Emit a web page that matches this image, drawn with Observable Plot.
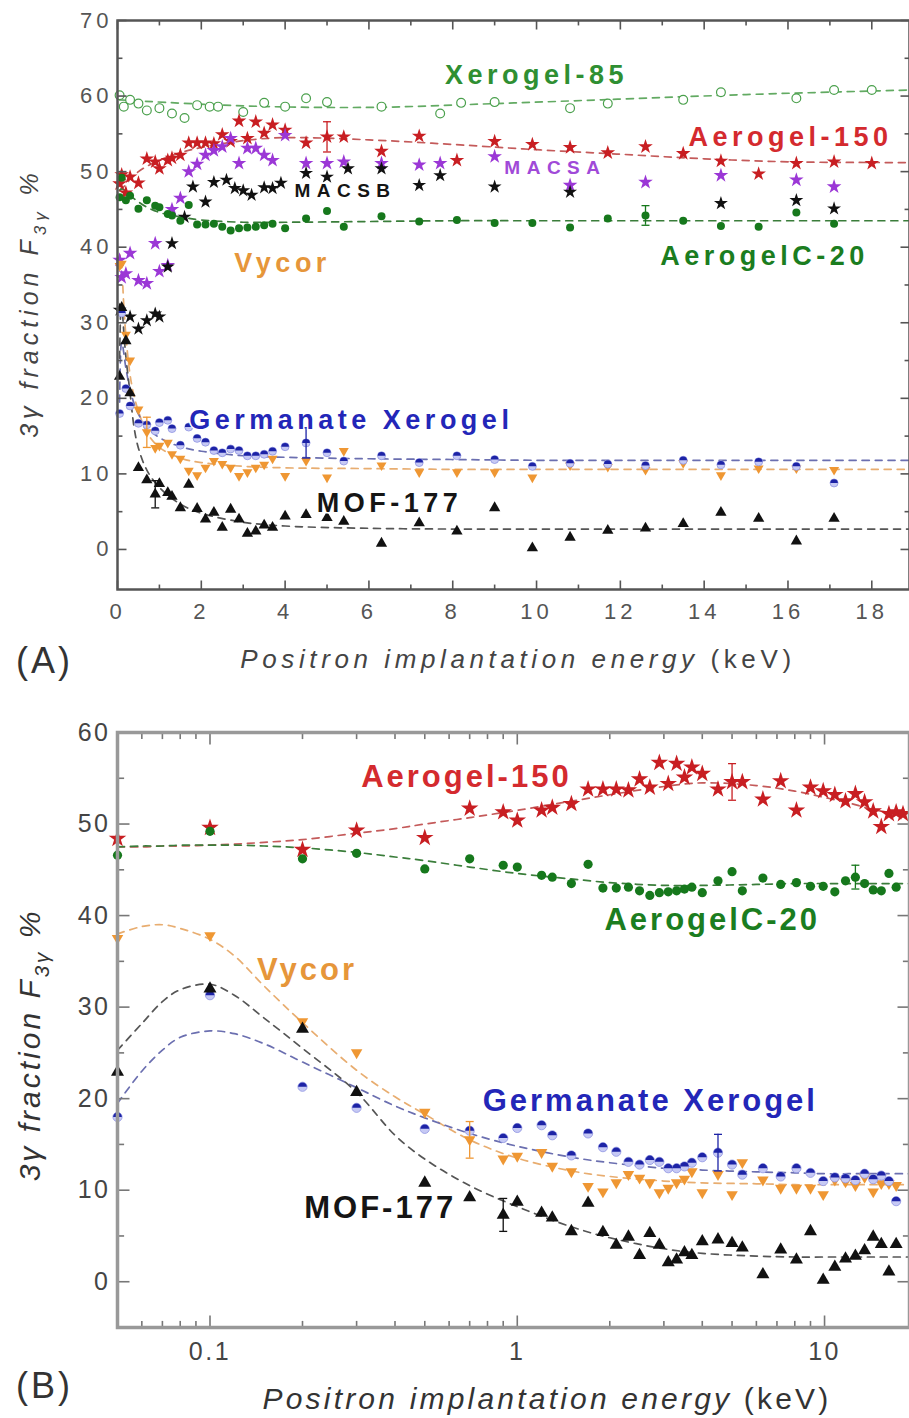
<!DOCTYPE html>
<html><head><meta charset="utf-8">
<script src="https://cdn.jsdelivr.net/npm/d3@7"></script>
<script src="https://cdn.jsdelivr.net/npm/@observablehq/plot@0.6"></script>
<style>
html,body{margin:0;padding:0;background:#fff;}
#chart{width:909px;height:1418px;overflow:hidden;}
#chart svg{display:block;}
</style></head>
<body><div id="chart"></div>
<script>
// ---------------- DATA ----------------
const energy = [0.05,0.1,0.2,0.3,0.5,0.7,0.9,1.0,1.2,1.3,1.5,1.7,1.9,2.1,2.3,2.5,2.7,2.9,3.1,3.3,3.5,3.7,4.0,4.5,5.0,5.4,6.3,7.2,8.1,9.0,9.9,10.8,11.7,12.6,13.5,14.4,15.3,16.2,17.1,18.0];
const aerogel150 = [48.4,49.6,47.2,49.3,48.5,51.7,51.3,50.4,51.5,51.8,52.2,53.8,53.8,53.8,53.7,54.9,54.0,56.7,54.4,56.6,55.1,56.2,55.5,53.8,54.6,54.6,52.7,54.7,51.5,54.0,53.6,53.2,52.5,53.3,52.4,51.4,49.7,51.1,51.3,51.1];
const aerogelC20 = [46.6,49.2,46.2,46.8,45.1,46.2,45.5,45.3,44.4,44.2,43.5,45.6,43.0,43.0,43.1,42.7,42.2,42.5,42.6,42.7,42.9,43.1,42.5,43.8,44.8,42.7,44.1,43.4,43.6,43.2,43.2,42.6,43.8,44.2,43.5,42.8,42.7,44.6,43.1,null];
const vycor = [37.5,37.8,28.4,25.0,18.5,15.5,13.4,13.7,14.1,12.6,12.0,10.4,9.8,10.8,11.7,11.3,10.8,9.7,10.2,10.8,11.2,12.0,9.7,11.7,9.5,13.0,11.1,10.2,10.2,10.2,9.5,11.1,10.9,10.5,11.4,9.8,10.7,10.7,10.5,null];
const germanate = [18.0,31.3,21.3,19.0,16.7,16.5,15.7,16.8,17.1,16.0,13.8,16.2,14.7,14.2,13.1,12.8,13.3,13.1,12.4,12.4,12.6,13.0,13.6,14.1,12.8,11.7,12.4,11.5,12.4,11.9,11.0,11.4,11.3,11.1,11.8,11.2,11.6,11.0,8.8,null];
const mof177 = [22.9,32.0,27.6,20.7,10.8,9.2,7.3,8.7,7.5,7.0,5.5,8.6,5.4,4.0,4.9,2.9,5.3,4.0,2.1,2.4,3.2,2.9,4.4,4.6,4.2,3.7,0.8,3.5,2.4,5.5,0.2,1.6,2.5,2.8,3.4,4.9,4.1,1.1,4.1,null];

const xerogel85E = [0.05,0.15,0.3,0.5,0.7,1.0,1.3,1.6,1.9,2.2,2.4,3.0,3.5,4.0,4.5,5.0,6.3,7.7,8.2,9.0,10.8,11.7,13.5,14.4,16.2,17.1,18.0];
const xerogel85  = [60.1,58.6,59.5,59.0,58.1,58.4,57.7,57.1,58.8,58.6,58.6,57.9,59.1,58.6,59.7,59.2,58.6,57.7,59.1,59.2,58.4,59.0,59.5,60.5,59.7,60.8,60.8];
const macsaE = [0.05,0.1,0.2,0.3,0.5,0.7,0.9,1.0,1.2,1.3,1.5,1.7,1.9,2.1,2.3,2.5,2.7,2.9,3.1,3.3,3.5,3.7,4.0,4.5,5.0,5.4,6.3,7.2,7.7,9.0,10.8,12.6,14.4,16.2,17.1];
const macsa  = [38.3,36.0,36.5,39.2,35.6,35.2,40.5,36.8,37.6,45.0,46.5,50.0,51.0,52.2,52.8,53.3,54.4,51.1,53.1,53.1,52.2,51.5,54.8,51.1,51.1,51.3,51.1,50.9,51.1,52.0,48.2,48.6,49.5,48.9,48.0];
const macsbE = [0.05,0.3,0.5,0.7,0.9,1.0,1.2,1.3,1.6,1.8,2.1,2.3,2.6,2.8,3.0,3.2,3.5,3.7,3.9,4.5,5.0,5.5,6.3,7.2,7.7,9.0,10.8,14.4,16.2,17.1];
const macsb  = [31.7,30.8,29.2,30.3,31.2,30.8,37.4,40.5,44.0,48.0,46.0,48.6,48.9,47.8,47.5,46.9,47.9,47.8,48.5,49.8,49.3,50.4,50.4,48.2,49.5,48.0,47.3,45.8,46.2,45.1];

// dashed model curves
const fitE = [0.05,0.06,0.07,0.08,0.1,0.12,0.15,0.2,0.3,0.4,0.5,0.7,1.0,1.5,2,3,4,6,8,10,12,14,16,18.9];
const fitAerogel150 = [47.5,47.5,47.6,47.6,47.7,47.8,48.0,48.3,49.0,49.5,50.0,50.7,51.5,52.5,53.2,54.1,54.5,54.2,53.6,52.9,52.3,51.7,51.3,51.2];
const fitAerogelC20 = [47.5,47.6,47.6,47.7,47.7,47.7,47.6,47.4,46.9,46.4,46.0,45.3,44.6,44.0,43.6,43.3,43.3,43.4,43.5,43.5,43.5,43.5,43.5,43.5];
const fitVycor      = [38.0,38.8,39.0,38.6,37.4,35.6,32.3,28.3,23.1,20.2,18.3,15.5,13.5,12.1,11.5,11.0,10.8,10.7,10.6,10.6,10.6,10.6,10.6,10.6];
const fitGermanate  = [19.5,23.0,25.3,26.7,27.4,27.1,26.0,24.0,21.2,19.2,17.9,16.2,14.8,13.6,13.0,12.4,12.2,12.0,11.9,11.8,11.8,11.8,11.8,11.8];
const fitMof        = [25.3,28.2,30.6,31.9,32.5,31.3,28.8,25.5,20.7,16.0,13.4,10.5,8.2,6.0,4.8,3.6,3.1,2.8,2.7,2.7,2.7,2.7,2.7,2.7];
const fitXerogelE = [0.05,3,6,9,12,15,18.9];
const fitXerogel  = [59.5,58.7,58.5,59.0,59.6,60.2,60.8];

// error bars
const errSeries = ["MOF-177","Aerogel-150","AerogelC-20","Vycor","Germanate Xerogel"];
const errE = [0.9,5.0,12.6,0.7,4.5];
const errV = [7.3,54.6,44.2,15.5,14.1];
const errD = [1.8,2.0,1.3,2.0,2.0];

// tick values
const xTicksA = [0,2,4,6,8,10,12,14,16,18];
const yTicksA = [0,10,20,30,40,50,60,70];
const xTicksB = [0.1,1,10];
const yTicksB = [0,10,20,30,40,50,60];

// series labels
const labelNamesA = ["Xerogel-85","Aerogel-150","AerogelC-20","Vycor","Germanate Xerogel","MOF-177"];
const labelEA = [10.0,16.06,15.44,3.94,5.58,6.49];
const labelVA = [62.8,54.6,38.8,37.9,17.1,6.1];
const smallNamesA = ["MACSA","MACSB"];
const smallEA = [10.45,5.44];
const smallVA = [50.5,47.5];
const labelNamesB = ["Aerogel-150","AerogelC-20","Vycor","Germanate Xerogel","MOF-177"];
const labelEB = [0.683,4.31,0.207,2.71,0.358];
const labelVB = [55.1,39.5,34.0,19.7,8.07];

// ---------------- STYLE ----------------
const FONT = "'Liberation Sans', Arial, Helvetica, sans-serif";
const col = {
  "Aerogel-150": "#c81e22", "AerogelC-20": "#16781c", "Xerogel-85": "#4aa04c",
  "Vycor": "#ef9733", "Germanate Xerogel": "#1d23a6", "MOF-177": "#111111",
  "MACSA": "#9b37d6", "MACSB": "#111111"
};
const labelCol = {
  "Aerogel-150": "#d42a2e", "AerogelC-20": "#1b7d20", "Xerogel-85": "#2f8f32",
  "Vycor": "#e6963a", "Germanate Xerogel": "#2326b8", "MOF-177": "#151515",
  "MACSA": "#a04ad8", "MACSB": "#151515"
};
const fitCol = {
  "Aerogel-150": "#c45a5a", "AerogelC-20": "#3a7d3a", "Xerogel-85": "#62aa62",
  "Vycor": "#e8ad70", "Germanate Xerogel": "#6b6fb0", "MOF-177": "#555555"
};

const rows = (E, V) => E.map((e, i) => ({energy: e, value: V[i]})).filter(d => d.value != null);
const errRows = errE.map((e, i) => ({series: errSeries[i], energy: e, value: errV[i], err: errD[i]}));
const labels = (N, E, V) => N.map((n, i) => ({text: n, energy: E[i], value: V[i], color: labelCol[n]}));

// custom symbols
const triDown = {draw(ctx, size){ const r = Math.sqrt(size/Math.PI)*1.25; ctx.moveTo(-r,-r*0.62); ctx.lineTo(r,-r*0.62); ctx.lineTo(0,r*1.1); ctx.closePath(); }};
const halfTop = {draw(ctx, size){ const r = Math.sqrt(size/Math.PI); ctx.moveTo(-r,0); ctx.arc(0,0,r,Math.PI,2*Math.PI); ctx.closePath(); }};
const vTick = (len, dir) => ({draw(ctx){ ctx.moveTo(0,0); ctx.lineTo(0,dir*len); }});
const hTick = (len, dir) => ({draw(ctx){ ctx.moveTo(0,0); ctx.lineTo(dir*len,0); }});
const cap = (w) => ({draw(ctx){ ctx.moveTo(-w,0); ctx.lineTo(w,0); }});

function fitLines(withXerogel, w) {
  const m = [
    ["Aerogel-150", fitE, fitAerogel150], ["AerogelC-20", fitE, fitAerogelC20],
    ["Vycor", fitE, fitVycor], ["Germanate Xerogel", fitE, fitGermanate], ["MOF-177", fitE, fitMof]
  ];
  if (withXerogel) m.unshift(["Xerogel-85", fitXerogelE, fitXerogel]);
  return m.map(([n, E, V]) => Plot.line(rows(E, V), {x: "energy", y: "value", stroke: fitCol[n], strokeWidth: w, strokeDasharray: "7,6", curve: "catmull-rom", clip: true}));
}

function markers(r, starK, withExtra) {
  const m = [];
  if (withExtra) m.push(Plot.dot(rows(xerogel85E, xerogel85), {x: "energy", y: "value", r: r*1.1, fill: "white", stroke: col["Xerogel-85"], strokeWidth: 1.2}));
  m.push(Plot.dot(rows(energy, aerogel150), {x: "energy", y: "value", symbol: "star", r: r*starK, fill: col["Aerogel-150"]}));
  if (withExtra) {
    m.push(Plot.dot(rows(macsaE, macsa), {x: "energy", y: "value", symbol: "star", r: r*starK, fill: col["MACSA"]}));
    m.push(Plot.dot(rows(macsbE, macsb), {x: "energy", y: "value", symbol: "star", r: r*starK*0.95, fill: col["MACSB"]}));
  }
  m.push(Plot.dot(rows(energy, aerogelC20), {x: "energy", y: "value", r: r, fill: col["AerogelC-20"]}));
  m.push(Plot.dot(rows(energy, vycor), {x: "energy", y: "value", symbol: triDown, r: r, fill: col["Vycor"]}));
  m.push(Plot.dot(rows(energy, germanate), {x: "energy", y: "value", r: r, fill: "#c6c9f4", stroke: "#8f94e2", strokeWidth: 0.8}));
  m.push(Plot.dot(rows(energy, germanate), {x: "energy", y: "value", symbol: halfTop, r: r*0.95, fill: col["Germanate Xerogel"]}));
  m.push(Plot.dot(rows(energy, mof177), {x: "energy", y: "value", symbol: "triangle", r: r*1.05, fill: col["MOF-177"]}));
  return m;
}

function errorMarks() {
  const st = d => col[d.series];
  return [
    Plot.ruleX(errRows, {x: "energy", y1: d => d.value - d.err, y2: d => d.value + d.err, stroke: st, strokeWidth: 1.3}),
    Plot.dot(errRows, {x: "energy", y: d => d.value - d.err, symbol: cap(4), stroke: st, fill: "none", strokeWidth: 1.3}),
    Plot.dot(errRows, {x: "energy", y: d => d.value + d.err, symbol: cap(4), stroke: st, fill: "none", strokeWidth: 1.3})
  ];
}

function tickMarks(xMaj, xMin, yMaj, yMin, xd, yd, len, stroke) {
  const o = {fill: "none", stroke, strokeWidth: 1.6};
  return [
    Plot.dot(xMaj, {...o, x: d => d, y: yd[0], symbol: vTick(len, -1)}),
    Plot.dot(xMin, {...o, x: d => d, y: yd[0], symbol: vTick(len*0.55, -1)}),
    Plot.dot(xMaj, {...o, x: d => d, y: yd[1], symbol: vTick(len, 1)}),
    Plot.dot(xMin, {...o, x: d => d, y: yd[1], symbol: vTick(len*0.55, 1)}),
    Plot.dot(yMaj, {...o, y: d => d, x: xd[0], symbol: hTick(len, 1)}),
    Plot.dot(yMin, {...o, y: d => d, x: xd[0], symbol: hTick(len*0.55, 1)}),
    Plot.dot(yMaj, {...o, y: d => d, x: xd[1], symbol: hTick(len, -1)}),
    Plot.dot(yMin, {...o, y: d => d, x: xd[1], symbol: hTick(len*0.55, -1)})
  ];
}

// ---------------- PANEL A ----------------
const xdA = [0, 18.9], ydA = [-5.3, 70];
const plotA = Plot.plot({
  width: 909, height: 700, marginLeft: 117, marginRight: 0, marginTop: 20, marginBottom: 111,
  style: {fontFamily: FONT, background: "white", overflow: "visible"},
  x: {domain: xdA, axis: null},
  y: {domain: ydA, axis: null},
  color: {type: "identity"},
  marks: [
    ...fitLines(true, 1.7),
    ...markers(4.0, 1.15, true),
    ...errorMarks(),
    Plot.text(labels(labelNamesA, labelEA, labelVA), {x: "energy", y: "value", text: "text", fill: "color", fontSize: 27, fontWeight: "bold", stroke: "white", strokeWidth: 3}),
    Plot.text(labels(smallNamesA, smallEA, smallVA), {x: "energy", y: "value", text: "text", fill: "color", fontSize: 19, fontWeight: "bold", stroke: "white", strokeWidth: 3}),
    ...tickMarks(xTicksA, d3.range(1, 19, 2), yTicksA, d3.range(5, 70, 10), xdA, ydA, 9, "#555"),
    Plot.axisX({ticks: xTicksA, tickSize: 0, tickPadding: 14, fontSize: 22, color: "#555", label: null, tickFormat: d3.format("d")}),
    Plot.axisY({ticks: yTicksA, tickSize: 0, tickPadding: 5, fontSize: 22, color: "#555", label: null}),
    Plot.frame({stroke: "#555", strokeWidth: 2.5})
  ]
});

// ---------------- PANEL B ----------------
const xdB = [0.05, 18.9], ydB = [-5, 60];
const xMinB = [0.06,0.07,0.08,0.09,0.2,0.3,0.4,0.5,0.6,0.7,0.8,0.9,2,3,4,5,6,7,8,9];
const plotB = Plot.plot({
  width: 909, height: 718, marginLeft: 117, marginRight: 0, marginTop: 32, marginBottom: 91,
  style: {fontFamily: FONT, background: "white", overflow: "visible"},
  x: {type: "log", domain: xdB, axis: null},
  y: {domain: ydB, axis: null},
  color: {type: "identity"},
  marks: [
    ...fitLines(false, 1.7),
    ...markers(4.6, 1.2, false),
    ...errorMarks(),
    Plot.text(labels(labelNamesB, labelEB, labelVB), {x: "energy", y: "value", text: "text", fill: "color", fontSize: 31, fontWeight: "bold", stroke: "white", strokeWidth: 3}),
    ...tickMarks(xTicksB, xMinB, yTicksB, d3.range(5, 60, 10), xdB, ydB, 12, "#777"),
    Plot.axisX({ticks: xTicksB, tickSize: 0, tickPadding: 15, fontSize: 25, color: "#444", label: null, tickFormat: d3.format("~g")}),
    Plot.axisY({ticks: yTicksB, tickSize: 0, tickPadding: 7, fontSize: 25, color: "#444", label: null}),
    Plot.frame({stroke: "#999", strokeWidth: 3.5})
  ]
});

// ---------------- TITLES ----------------
function spacing(svg, sel, px) { d3.select(svg).selectAll(sel).style("letter-spacing", px + "px"); }
spacing(plotA, 'g[aria-label="x-axis tick label"] text, g[aria-label="y-axis tick label"] text', 4);
spacing(plotB, 'g[aria-label="x-axis tick label"] text, g[aria-label="y-axis tick label"] text', 2.5);
d3.select(plotA).selectAll('g[aria-label="text"] text').style("letter-spacing", function(){ return this.textContent.startsWith("MACS") ? "6.5px" : "4.5px"; });
d3.select(plotB).selectAll('g[aria-label="text"] text').style("letter-spacing", "3px");

function yTitle(svg, x, cy, size, sp, fill) {
  const t = d3.select(svg).append("text")
    .attr("transform", `translate(${x},${cy}) rotate(-90)`)
    .attr("text-anchor", "middle").attr("font-family", FONT).attr("font-style", "italic")
    .attr("font-size", size).attr("letter-spacing", sp).attr("fill", fill);
  t.append("tspan").text("3γ fraction F");
  t.append("tspan").attr("font-size", size*0.68).attr("dy", size*0.3).text("3γ");
  t.append("tspan").attr("dy", -size*0.3).text(" %");
}
function xTitle(svg, cx, y, size, sp, fill) {
  const t = d3.select(svg).append("text").attr("x", cx).attr("y", y)
    .attr("text-anchor", "middle").attr("font-family", FONT)
    .attr("font-size", size).attr("letter-spacing", sp).attr("fill", fill);
  t.append("tspan").attr("font-style", "italic").text("Positron implantation energy ");
  t.append("tspan").text("(keV)");
}
function tag(svg, text, x, y, size) {
  d3.select(svg).append("text").attr("x", x).attr("y", y).attr("text-anchor", "start")
    .attr("font-family", FONT).attr("font-size", size).attr("letter-spacing", 3)
    .attr("fill", "#333").text(text);
}
yTitle(plotA, 38, 303, 25, 5, "#444");
xTitle(plotA, 518, 668, 26, 4.6, "#444");
tag(plotA, "(A)", 16, 673, 36);
yTitle(plotB, 40, 345, 30, 3, "#333");
xTitle(plotB, 547, 709, 30, 3.2, "#333");
tag(plotB, "(B)", 16, 698, 36);

document.getElementById("chart").append(plotA, plotB);
</script>
</body></html>
